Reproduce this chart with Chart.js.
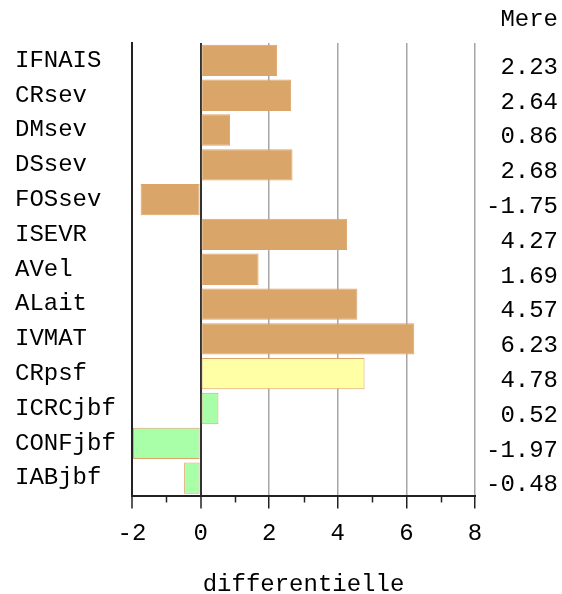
<!DOCTYPE html>
<html>
<head>
<meta charset="utf-8">
<script src="https://cdn.jsdelivr.net/npm/chart.js@4/dist/chart.umd.min.js"></script>
<style>
  html, body { margin: 0; padding: 0; background: #fff; }
</style>
</head>
<body>
<canvas id="chart" width="562" height="594"></canvas>
<script>
// variables and their "Mere" differential
const variables = ["IFNAIS","CRsev","DMsev","DSsev","FOSsev","ISEVR","AVel","ALait","IVMAT","CRpsf","ICRCjbf","CONFjbf","IABjbf"];
const mere = [2.23, 2.64, 0.86, 2.68, -1.75, 4.27, 1.69, 4.57, 6.23, 4.78, 0.52, -1.97, -0.48];
const xTicks = [-2, 0, 2, 4, 6, 8];

const FONT = { family: "'Liberation Mono', 'DejaVu Sans Mono', monospace", size: 24 };

// colour by block of variables
function barColor(name) {
    if (name.endsWith("jbf")) return "#A8FFA8";
    if (name.endsWith("psf")) return "#FFFFA6";
    return "#DAA569";
}

// small ticks between the labelled ones
const minorTicks = {
    id: "minorTicks",
    afterDraw(chart) {
        const x = chart.scales.x;
        const ctx = chart.ctx;
        ctx.save();
        ctx.strokeStyle = "#222";
        ctx.lineWidth = 1.5;
        for (let v = x.min + 1; v < x.max; v += 2) {
            const px = Math.round(x.getPixelForValue(v)) + 0.5;
            ctx.beginPath();
            ctx.moveTo(px, x.top);
            ctx.lineTo(px, x.top + 7);
            ctx.stroke();
        }
        ctx.restore();
    }
};

new Chart(document.getElementById("chart"), {
    type: "bar",
    data: {
        labels: variables,
        datasets: [{
            label: "Mere",
            data: mere,
            backgroundColor: variables.map(barColor),
            borderColor: "#DDA46A",
            borderWidth: 1,
            borderSkipped: false,
            categoryPercentage: 1,
            barPercentage: 0.9
        }]
    },
    plugins: [minorTicks],
    options: {
        indexAxis: "y",
        responsive: false,
        animation: false,
        layout: { padding: { left: 15, right: 4, top: 0, bottom: 0 } },
        plugins: {
            legend: { display: false },
            tooltip: { enabled: false },
            title: {
                display: true,
                text: "Mere",
                align: "end",
                color: "#000",
                font: { ...FONT, weight: "normal" },
                padding: { top: 5.6, bottom: 8.6 }
            }
        },
        scales: {
            x: {
                min: xTicks[0],
                max: xTicks[xTicks.length - 1],
                afterBuildTicks: s => { s.ticks = xTicks.map(v => ({ value: v })); },
                afterFit: s => { s.height = 98.5; },
                ticks: { color: "#000", font: FONT, padding: 11, maxRotation: 0 },
                grid: {
                    color: c => (c.tick && c.tick.value <= 0) ? "#333" : "#A6A6A6",
                    lineWidth: c => (c.tick && c.tick.value <= 0) ? 2 : 1.5,
                    tickColor: "#222",
                    tickLength: 13,
                    tickWidth: 1.5
                },
                border: { display: true, color: "#222", width: 2 },
                title: {
                    display: true,
                    text: "differentielle",
                    color: "#000",
                    font: { ...FONT, lineHeight: 1 },
                    padding: { top: 0, bottom: -3 }
                }
            },
            y: {
                position: "left",
                afterFit: s => { s.width = 117; },
                ticks: { color: "#000", font: FONT, crossAlign: "far", padding: 0 },
                grid: { display: false },
                border: { display: true, color: "#222", width: 2 }
            },
            y2: {
                type: "category",
                position: "right",
                labels: mere.map(v => v.toFixed(2)),
                offset: true,
                afterFit: s => { s.width = 83; },
                ticks: { color: "#000", font: FONT, crossAlign: "far", labelOffset: 7 },
                grid: { display: false },
                border: { display: false }
            }
        }
    }
});
</script>
</body>
</html>
